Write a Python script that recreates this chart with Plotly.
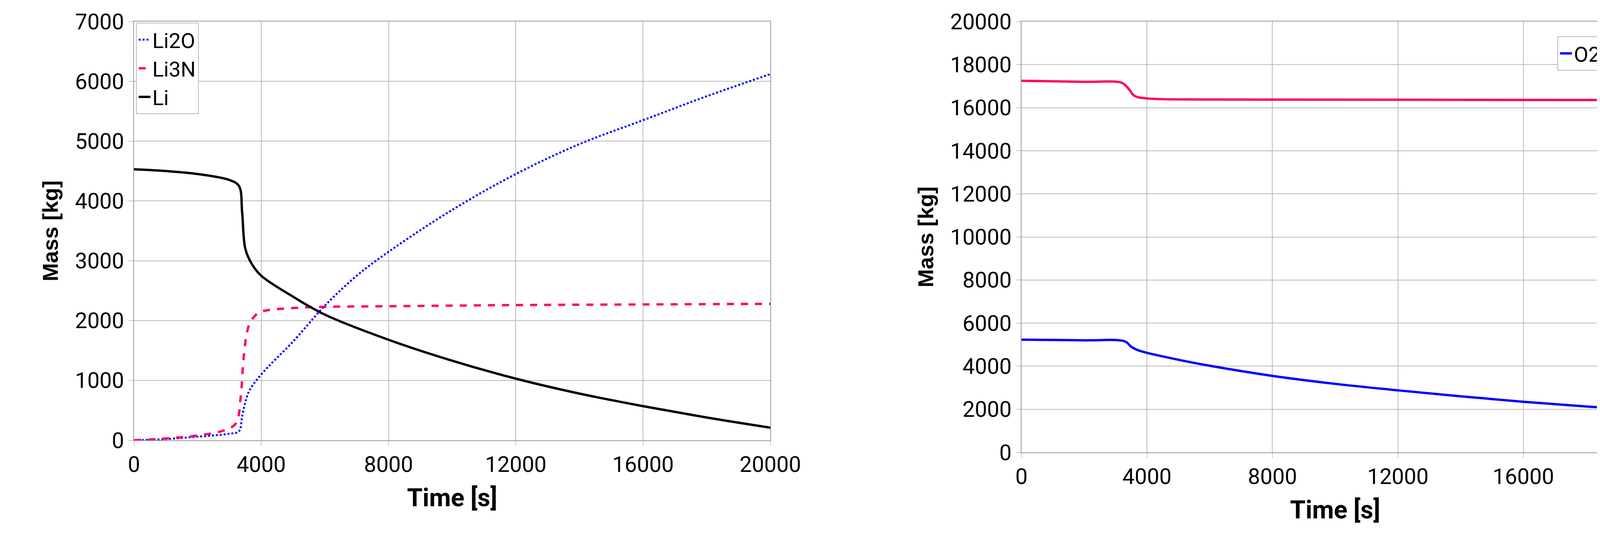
import plotly.graph_objects as go

t_li = [0, 1000, 2000, 3000, 3300, 3400, 3500, 3700, 4000, 5000, 6000, 8000, 10000, 12000, 14000, 16000, 18000, 20000]
li = [4530, 4500, 4450, 4350, 4250, 3800, 3200, 2950, 2750, 2400, 2100, 1680, 1330, 1030, 780, 570, 380, 210]
t_li2o = [0, 1000, 2000, 3000, 3300, 3400, 3600, 4000, 5000, 6000, 7000, 8000, 10000, 12000, 14000, 16000, 18000, 20000]
li2o = [0, 20, 60, 110, 150, 400, 800, 1100, 1650, 2250, 2750, 3150, 3850, 4450, 4950, 5350, 5750, 6120]
t_li3n = [0, 1000, 2000, 2800, 3200, 3350, 3450, 3600, 3800, 4000, 5000, 6000, 8000, 12000, 16000, 20000]
li3n = [0, 30, 80, 160, 280, 700, 1400, 1900, 2080, 2150, 2210, 2230, 2240, 2260, 2270, 2280]
t_o2 = [0, 2000, 3300, 3500, 3700, 4000, 5000, 6000, 8000, 10000, 12000, 14000, 16000, 18000, 20000]
o2 = [5230, 5200, 5150, 4900, 4750, 4620, 4300, 4020, 3550, 3180, 2880, 2600, 2350, 2130, 1950]
t_n2 = [0, 2000, 3200, 3400, 3600, 4000, 6000, 20000]
n2 = [17250, 17200, 17150, 16900, 16550, 16430, 16380, 16350]

FONT = "Liberation Sans Narrow, Roboto, Liberation Sans, sans-serif"
BFONT = "Liberation Sans, DejaVu Sans, sans-serif"
fig = go.Figure()
fig.add_trace(go.Scatter(x=t_li2o, y=li2o, name="Li2O", mode="lines", line=dict(color="#0000FF", width=5, dash="dot", shape="spline"), xaxis="x", yaxis="y", legend="legend"))
fig.add_trace(go.Scatter(x=t_li3n, y=li3n, name="Li3N", mode="lines", line=dict(color="#FF0066", width=6, dash="dash", shape="spline"), xaxis="x", yaxis="y", legend="legend"))
fig.add_trace(go.Scatter(x=t_li, y=li, name="Li", mode="lines", line=dict(color="black", width=6, shape="spline"), xaxis="x", yaxis="y", legend="legend"))
fig.add_trace(go.Scatter(x=t_o2, y=o2, name="O2", mode="lines", line=dict(color="#0000FF", width=6, shape="spline"), xaxis="x2", yaxis="y2", legend="legend2"))
fig.add_trace(go.Scatter(x=t_n2, y=n2, name="N2", mode="lines", line=dict(color="#FF0066", width=6, shape="spline"), xaxis="x2", yaxis="y2", legend="legend2"))

W, H = 4269, 1390
ax = dict(showgrid=True, gridcolor="#BBBBBB", gridwidth=2, showline=True, linecolor="#999999", linewidth=2,
          ticks="outside", ticklen=12, tickcolor="#999999", zeroline=False, automargin=False, tickformat="d",
          tickfont=dict(family=FONT, size=56, color="black"))
xt = dict(text="<b>Time [s]</b>", font=dict(family=FONT, size=64, color="black"), standoff=30)
yt = dict(text="<b>Mass [kg]</b>", font=dict(family=BFONT, size=56, color="black"), standoff=25)
fig.update_layout(
    width=W, height=H, paper_bgcolor="white", plot_bgcolor="white",
    margin=dict(l=0, r=0, t=0, b=0, autoexpand=False),
    xaxis=dict(ax, domain=[335/W, 1964/W], range=[0, 20000], tickvals=[0, 4000, 8000, 12000, 16000, 20000], mirror=True, title=xt, anchor="y"),
    yaxis=dict(ax, domain=[1-1119/H, 1-47/H], range=[0, 7000], dtick=1000, mirror=True, title=yt, anchor="x"),
    xaxis2=dict(ax, domain=[2607/W, 4213/W], range=[0, 20000], tickvals=[0, 4000, 8000, 12000, 16000, 20000], mirror=True, title=xt, anchor="y2"),
    yaxis2=dict(ax, domain=[1-1150/H, 1-47/H], range=[0, 20000], dtick=2000, mirror=True, title=yt, anchor="x2"),
    legend=dict(x=340/W, y=1-50/H, xanchor="left", yanchor="top", bgcolor="white", bordercolor="#BBBBBB", borderwidth=2,
                font=dict(family=FONT, size=54, color="black")),
    legend2=dict(x=4210/W, y=1-85/H, xanchor="right", yanchor="top", orientation="h", bgcolor="white", bordercolor="#BBBBBB", borderwidth=2,
                 font=dict(family=FONT, size=54, color="black")),
)
fig.write_html("out.html")
